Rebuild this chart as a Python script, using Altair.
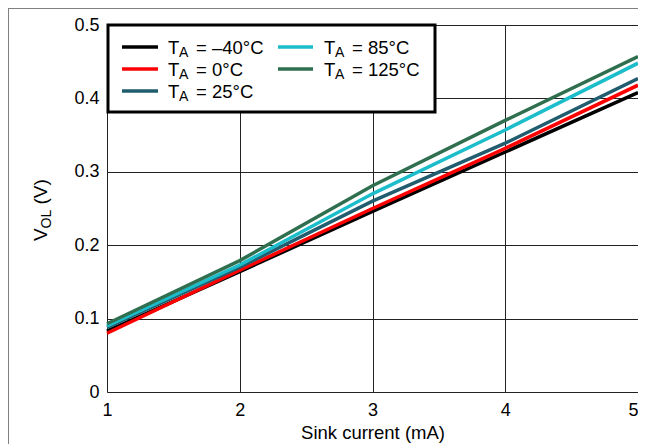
import altair as alt
import pandas as pd

FONT = "Liberation Sans"

# ---- data ----
current_ma = [1, 2, 3, 4, 5]
temps = ["–40°C", "0°C", "25°C", "85°C", "125°C"]
v_m40 = [0.083, 0.164, 0.246, 0.327, 0.408]
v_0 = [0.080, 0.166, 0.250, 0.332, 0.418]
v_25 = [0.088, 0.170, 0.260, 0.339, 0.427]
v_85 = [0.090, 0.173, 0.270, 0.357, 0.448]
v_125 = [0.093, 0.179, 0.281, 0.370, 0.457]
series = [v_m40, v_0, v_25, v_85, v_125]
colors = ["#000000", "#ff0000", "#215d6e", "#1cbdcb", "#2f6f4f"]
x_ticks = [1, 2, 3, 4, 5]
y_ticks = [0, 0.1, 0.2, 0.3, 0.4, 0.5]
x_title = "Sink current (mA)"

rows = []
for t, vals in zip(temps, series):
    for c, v in zip(current_ma, vals):
        rows.append({"current": c, "vol": v, "temp": t})
df = pd.DataFrame(rows)

W, H = 531, 367

lines = alt.Chart(df).mark_line(strokeWidth=3.5).encode(
    x=alt.X("current:Q",
            scale=alt.Scale(domain=[1, 5], nice=False, zero=False),
            axis=alt.Axis(values=x_ticks, format="d", title=x_title,
                          titleFont=FONT, titleFontSize=18.5, titleFontWeight="normal",
                          titleColor="black", titlePadding=4,
                          labelFont=FONT, labelFontSize=18, labelColor="black",
                          labelPadding=9, labelFlush=False, labelOverlap=False,
                          labelAlign={"condition": {"test": "datum.value == 5", "value": "right"},
                                      "value": "center"},
                          ticks=False, domain=False,
                          grid=True, gridColor="#222222", gridWidth=1)),
    y=alt.Y("vol:Q",
            scale=alt.Scale(domain=[0, 0.5], nice=False),
            axis=alt.Axis(values=y_ticks, format="~g", title=None,
                          labelFont=FONT, labelFontSize=18, labelColor="black",
                          labelPadding=8, labelFlush=False, labelOverlap=False,
                          ticks=False, domain=False,
                          grid=True, gridColor="#222222", gridWidth=1)),
    color=alt.Color("temp:N", scale=alt.Scale(domain=temps, range=colors), legend=None),
)

one = alt.Data(values=[{}])


def txt(s, x, y, size, angle=0):
    return alt.Chart(one).mark_text(
        text=s, font=FONT, fontSize=size, align="left", baseline="alphabetic",
        color="black", angle=angle
    ).encode(x=alt.value(x), y=alt.value(y))


layers = [lines]

# legend box
layers.append(
    alt.Chart(one).mark_rect(fill="white", stroke="black", strokeWidth=3).encode(
        x=alt.value(1), x2=alt.value(328), y=alt.value(0), y2=alt.value(87)
    )
)

sw_x0 = [15, 171]
sw_x1 = [51, 206]
text_x = [61, 217]
row_y = [22, 44, 66]
slots = [(0, 0), (0, 1), (0, 2), (1, 0), (1, 1)]
for (col, row), t, colr in zip(slots, temps, colors):
    ry = row_y[row]
    tx = text_x[col]
    layers.append(
        alt.Chart(one).mark_rule(color=colr, strokeWidth=3.5).encode(
            x=alt.value(sw_x0[col]), x2=alt.value(sw_x1[col]), y=alt.value(ry)
        )
    )
    layers.append(txt("T", tx, ry + 7, 18.5))
    layers.append(txt("A", tx + 11, ry + 10, 14))
    layers.append(txt("= " + t, tx + 28, ry + 7, 18.5))

# y-axis title V_OL (V)
layers.append(txt("V", -60, 216, 19, 270))
layers.append(txt("OL", -56, 203.5, 14, 270))
layers.append(txt("(V)", -60, 179.5, 19, 270))

# outer figure frame lines
layers.append(
    alt.Chart(one).mark_rule(color="#808080", strokeWidth=1).encode(
        x=alt.value(-98.5), y=alt.value(-17), y2=alt.value(440)
    )
)
layers.append(
    alt.Chart(one).mark_rule(color="#808080", strokeWidth=1).encode(
        x=alt.value(-99), x2=alt.value(W), y=alt.value(-16.5)
    )
)

chart = alt.layer(*layers).properties(
    width=W, height=H,
    autosize=alt.AutoSizeParams(type="none"),
    padding={"left": 99, "top": 17, "right": 0, "bottom": 52},
).configure_view(stroke="black", strokeWidth=3).configure(background="white")

chart.save("out.html", embed_options={"renderer": "svg", "actions": False})
